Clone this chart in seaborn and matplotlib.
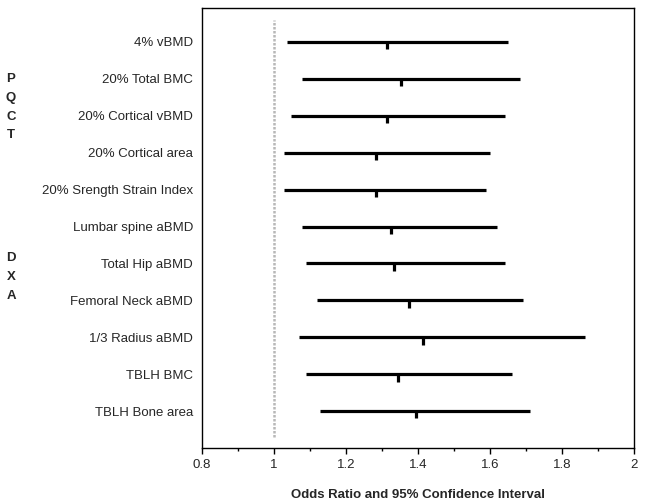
import numpy as np
import matplotlib
matplotlib.use('Agg')
import matplotlib.pyplot as plt
import matplotlib.transforms as mtransforms
import seaborn as sns

# Outcome measures and odds ratios (with 95% CI)
measures = ['4% vBMD', '20% Total BMC', '20% Cortical vBMD', '20% Cortical area',
            '20% Srength Strain Index', 'Lumbar spine aBMD', 'Total Hip aBMD',
            'Femoral Neck aBMD', '1/3 Radius aBMD', 'TBLH BMC', 'TBLH Bone area']
odds_ratio = [1.314, 1.354, 1.314, 1.283, 1.283, 1.324, 1.334, 1.375, 1.415, 1.344, 1.395]
ci_low = [1.037, 1.077, 1.046, 1.027, 1.027, 1.077, 1.088, 1.119, 1.069, 1.088, 1.128]
ci_high = [1.651, 1.682, 1.641, 1.600, 1.590, 1.620, 1.641, 1.691, 1.865, 1.662, 1.712]

pqct_letters = ['P', 'Q', 'C', 'T']
dxa_letters = ['D', 'X', 'A']

sns.set_style('ticks')
plt.rcParams['font.family'] = ['Liberation Sans', 'DejaVu Sans']

fig = plt.figure(figsize=(6.47, 5.01), dpi=100)
ax = fig.add_axes([202 / 647, 53 / 501, 432 / 647, 440 / 501])

ypos = np.arange(len(measures))

# reference line at OR = 1
ax.axvline(1, ymin=0.025, ymax=0.973, color='#b8b8b8', lw=1.8, ls=(0, (1, 0.6)))

# confidence intervals
ax.hlines(ypos, ci_low, ci_high, color='black', lw=2.3)
# point estimates: short tick below the CI line
ax.vlines(odds_ratio, ypos, ypos + 0.2, color='black', lw=2.3)

ax.set_xlim(0.8, 2)
ax.set_ylim(len(measures) - 0.0, -0.92)
ax.set_xticks(np.arange(0.8, 2.01, 0.2))
ax.set_xticklabels(['0.8', '1', '1.2', '1.4', '1.6', '1.8', '2'], fontsize=9.5)
ax.set_xticks(np.arange(0.9, 2.0, 0.2), minor=True)
ax.tick_params(axis='x', which='major', direction='out', length=4, width=1, color='black', pad=4)
ax.tick_params(axis='x', which='minor', direction='out', length=2.5, width=1, color='black')

ax.set_yticks(ypos)
ax.set_yticklabels(measures, fontsize=9.5)
ax.tick_params(axis='y', length=0, pad=6.5)

for sp in ax.spines.values():
    sp.set_visible(True)
    sp.set_color('black')
    sp.set_linewidth(1)

ax.set_xlabel('Odds Ratio and 95% Confidence Interval', fontsize=9.5,
              fontweight='bold', labelpad=13)

# group letters on the far left
trans = mtransforms.blended_transform_factory(fig.transFigure, ax.transData)
for i, ch in enumerate(pqct_letters):
    ax.text(11 / 647, 1.0 + 0.51 * i, ch, transform=trans, ha='center', va='center',
            fontsize=9.5, fontweight='bold')
for i, ch in enumerate(dxa_letters):
    ax.text(11 / 647, 5.85 + 0.51 * i, ch, transform=trans, ha='center', va='center',
            fontsize=9.5, fontweight='bold')

fig.savefig('out.png', dpi=100)
